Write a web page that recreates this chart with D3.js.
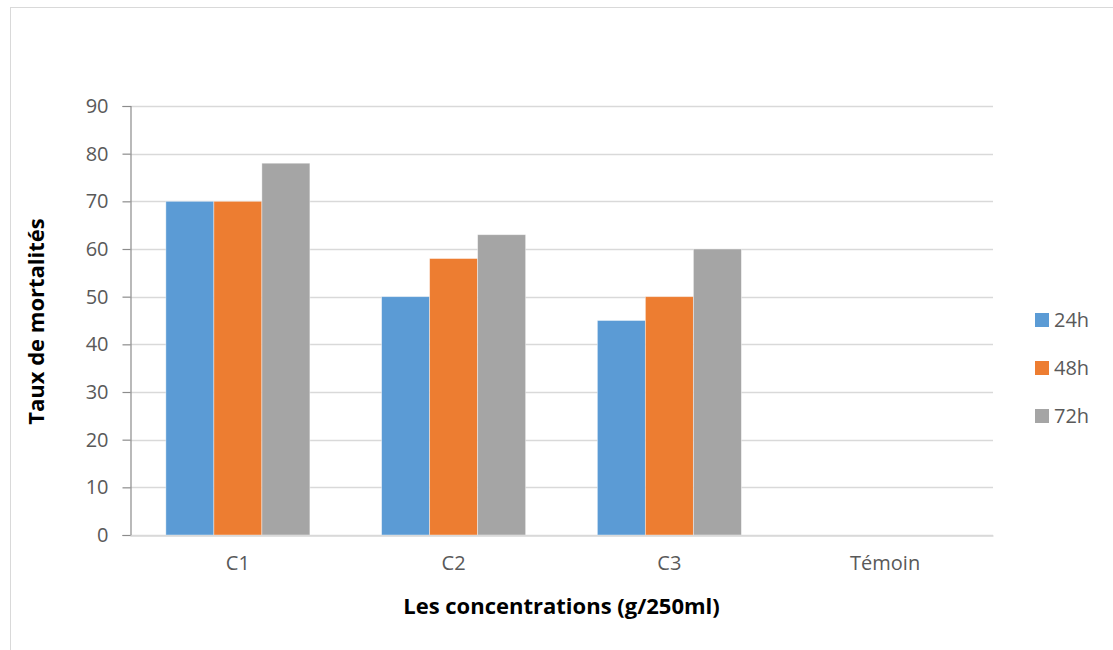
<!DOCTYPE html>
<html>
<head>
<meta charset="utf-8">
<script src="https://cdn.jsdelivr.net/npm/d3@7"></script>
<style>
  html, body { margin: 0; padding: 0; background: #fff; }
  svg { display: block; font-family: "Open Sans", "Noto Sans", sans-serif; }
</style>
</head>
<body>
<svg id="chart" width="1113" height="650"></svg>
<script>
// Mortality rate per concentration and exposure time
const categories = ["C1", "C2", "C3", "Témoin"];
const seriesNames = ["24h", "48h", "72h"];
const values24h = [70, 50, 45, 0];
const values48h = [70, 58, 50, 0];
const values72h = [78, 63, 60, 0];
const yTicks = [0, 10, 20, 30, 40, 50, 60, 70, 80, 90];
const colors = ["#5b9bd5", "#ed7d31", "#a5a5a5"];

const seriesValues = [values24h, values48h, values72h];

const svg = d3.select("#chart");
const W = 1113, H = 650;

// outer frame
svg.append("rect")
  .attr("x", 10.5).attr("y", 7.5)
  .attr("width", W).attr("height", H)
  .attr("fill", "#fff").attr("stroke", "#d9d9d9").attr("stroke-width", 1);

const plot = { left: 130, right: 993, top: 106, bottom: 535 };

const x = d3.scaleBand().domain(categories)
  .range([plot.left, plot.right]).paddingInner(0).paddingOuter(0);
const xInner = d3.scaleBand().domain(seriesNames)
  .range([0, x.bandwidth()]).paddingInner(0).paddingOuter(0.747);
const y = d3.scaleLinear().domain([0, 90]).range([plot.bottom, plot.top]);

// gridlines
svg.append("g").selectAll("line").data(yTicks).join("line")
  .attr("x1", plot.left).attr("x2", plot.right)
  .attr("y1", d => Math.round(y(d)) + 0.5).attr("y2", d => Math.round(y(d)) + 0.5)
  .attr("stroke", "#d9d9d9").attr("stroke-width", 1.3);

// bars
const groups = svg.append("g").selectAll("g").data(categories).join("g")
  .attr("transform", c => `translate(${x(c)},0)`);
groups.selectAll("rect")
  .data((c, i) => seriesNames.map((s, j) => ({ s, j, v: seriesValues[j][i] })))
  .join("rect")
  .attr("x", d => xInner(d.s))
  .attr("width", xInner.bandwidth())
  .attr("y", d => y(d.v))
  .attr("height", d => y(0) - y(d.v))
  .attr("fill", d => colors[d.j])
  .attr("stroke", "#fff").attr("stroke-opacity", 0.5).attr("stroke-width", 0.8);

// y axis
const yAxis = d3.axisLeft(y).tickValues(yTicks).tickSize(8).tickPadding(14);
const gy = svg.append("g").attr("transform", `translate(${plot.left + 0.5},0)`).call(yAxis);
gy.select(".domain").attr("stroke", "#8c8c8c").attr("stroke-width", 1.2);
gy.selectAll(".tick line").attr("stroke", "#8c8c8c").attr("stroke-width", 1.2);
gy.selectAll(".tick text").attr("fill", "#595959").attr("font-size", 20)
  .attr("font-family", "Open Sans, sans-serif");

// x axis
const xAxis = d3.axisBottom(x).tickSize(0).tickPadding(20);
const gx = svg.append("g").attr("transform", `translate(0,${plot.bottom + 0.5})`).call(xAxis);
gx.select(".domain").attr("stroke", "#d9d9d9").attr("stroke-width", 1.3);
gx.selectAll(".tick text").attr("fill", "#595959").attr("font-size", 20)
  .attr("font-family", "Open Sans, sans-serif");

// axis titles
svg.append("text")
  .attr("transform", `translate(44,${(plot.top + plot.bottom) / 2 + 1}) rotate(-90)`)
  .attr("text-anchor", "middle").attr("font-weight", "bold")
  .attr("font-size", 22).attr("fill", "#000")
  .text("Taux de mortalités");
svg.append("text")
  .attr("x", (plot.left + plot.right) / 2).attr("y", 614)
  .attr("text-anchor", "middle").attr("font-weight", "bold")
  .attr("font-size", 22).attr("fill", "#000")
  .text("Les concentrations (g/250ml)");

// legend
const legend = svg.append("g").selectAll("g").data(seriesNames).join("g")
  .attr("transform", (d, i) => `translate(1035,${313 + i * 48})`);
legend.append("rect").attr("width", 14).attr("height", 14)
  .attr("fill", (d, i) => colors[i]);
legend.append("text").attr("x", 19).attr("y", 7).attr("dy", "0.35em")
  .attr("font-size", 20).attr("fill", "#595959").text(d => d);
</script>
</body>
</html>
